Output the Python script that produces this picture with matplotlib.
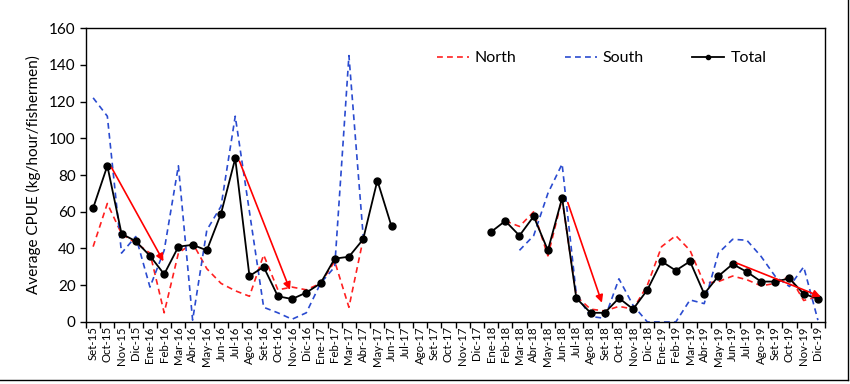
import numpy as np
import matplotlib
matplotlib.use("Agg")
import matplotlib.pyplot as plt
from matplotlib.lines import Line2D

nan = np.nan

months = ["Set-15", "Oct-15", "Nov-15", "Dic-15",
          "Ene-16", "Feb-16", "Mar-16", "Abr-16", "May-16", "Jun-16", "Jul-16", "Ago-16", "Set-16", "Oct-16", "Nov-16", "Dic-16",
          "Ene-17", "Feb-17", "Mar-17", "Abr-17", "May-17", "Jun-17", "Jul-17", "Ago-17", "Set-17", "Oct-17", "Nov-17", "Dic-17",
          "Ene-18", "Feb-18", "Mar-18", "Abr-18", "May-18", "Jun-18", "Jul-18", "Ago-18", "Set-18", "Oct-18", "Nov-18", "Dic-18",
          "Ene-19", "Feb-19", "Mar-19", "Abr-19", "May-19", "Jun-19", "Jul-19", "Ago-19", "Set-19", "Oct-19", "Nov-19", "Dic-19"]

total = [62, 85, 48, 44,
         36, 26, 41, 42, 39, 59, 89, 25, 30, 14, 12.5, 16,
         21, 34.5, 35.5, 45, 77, 52, nan, nan, nan, nan, nan, nan,
         49, 55, 47, 57.5, 39, 67.5, 13, 5, 5, 13, 7, 17.5,
         33, 28, 33, 15.3, 25, 31.5, 27.3, 22, 22, 23.7, 15.3, 12.7]

north = [41, 64.5, 48, 43,
         37.5, 5, 37.5, 43, 29, 21, 17, 14, 36.5, 17.5, 19, 17.5,
         21, 33, 8, 45, nan, nan, nan, nan, nan, nan, nan, nan,
         nan, 55, 52, 60, 36, 67, 14, 7, 6, 8.5, 7, 20,
         41, 47, 39, 21, 22, 25, 23, 19.7, 21, 24.8, 11.7, 13.8]

south = [122, 112, 37.5, 46.5,
         19, 39, 85, 1, 50, 63, 112, 60, 8, 5, 1.5, 5,
         21, 30, 145, 47, nan, nan, nan, nan, nan, nan, nan, nan,
         nan, nan, 39, 47, 70, 86, 15, 3, 2, 23.5, 9, 0,
         0, 0, 12, 10, 37.5, 45, 44.5, 35.7, 24.8, 19.3, 30, 1]

# trend arrows: (x_start, y_start, x_end, y_end) in month-index / CPUE units
arrows = [(1.3, 84, 4.95, 33),
          (10.3, 87.5, 13.85, 17.5),
          (33.4, 65, 35.8, 10.5),
          (45.3, 32, 51.2, 13.8)]

plt.rcParams['font.family'] = ['Lato', 'DejaVu Sans']

fig = plt.figure(figsize=(8.5, 3.84), dpi=100)
ax = fig.add_axes([0.1012, 0.1615, 0.8694, 0.7655])

x = np.arange(len(months))
ax.plot(x, north, color='#FF2020', lw=1.2, ls=(0, (3.5, 2.5)), label='North')
ax.plot(x, south, color='#2A4BD0', lw=1.2, ls=(0, (3.5, 2.5)), label='South')
ax.plot(x, total, color='black', lw=1.3, marker='o', ms=5, label='Total')

for x0, y0, x1, y1 in arrows:
    ax.annotate('', xy=(x1, y1), xytext=(x0, y0),
                arrowprops=dict(arrowstyle='-|>', color='#FF0000', lw=1.2,
                                mutation_scale=11, shrinkA=0, shrinkB=0))

ax.set_xlim(-0.5, len(months) - 0.5)
ax.set_ylim(0, 160)
ax.set_yticks(np.arange(0, 161, 20))
ax.tick_params(axis='y', labelsize=11, direction='out', length=4, width=1)

ax.set_xticks(np.arange(-0.5, len(months), 1.0))
ax.set_xticklabels([])
ax.set_xticks(x, minor=True)
ax.set_xticklabels(months, minor=True, rotation=90, fontsize=8.2)
ax.tick_params(axis='x', which='major', direction='out', length=4, width=1)
ax.tick_params(axis='x', which='minor', length=0, pad=3)

for s in ax.spines.values():
    s.set_linewidth(1.0)

ax.set_ylabel('Average CPUE (kg/hour/fishermen)', fontsize=11, labelpad=6)

ax.legend(loc='upper left', bbox_to_anchor=(0.455, 0.97), ncol=3, frameon=False,
          fontsize=11.5, handlelength=2.0, columnspacing=3.0, handletextpad=0.4,
          markerscale=0.6)

# outer border lines (bottom and right) as in reference
fig.add_artist(Line2D([0, 0.998], [0.011, 0.011], transform=fig.transFigure, color='black', lw=1))
fig.add_artist(Line2D([0.998, 0.998], [0.011, 1.0], transform=fig.transFigure, color='black', lw=1))

fig.savefig('out.png', dpi=100)
